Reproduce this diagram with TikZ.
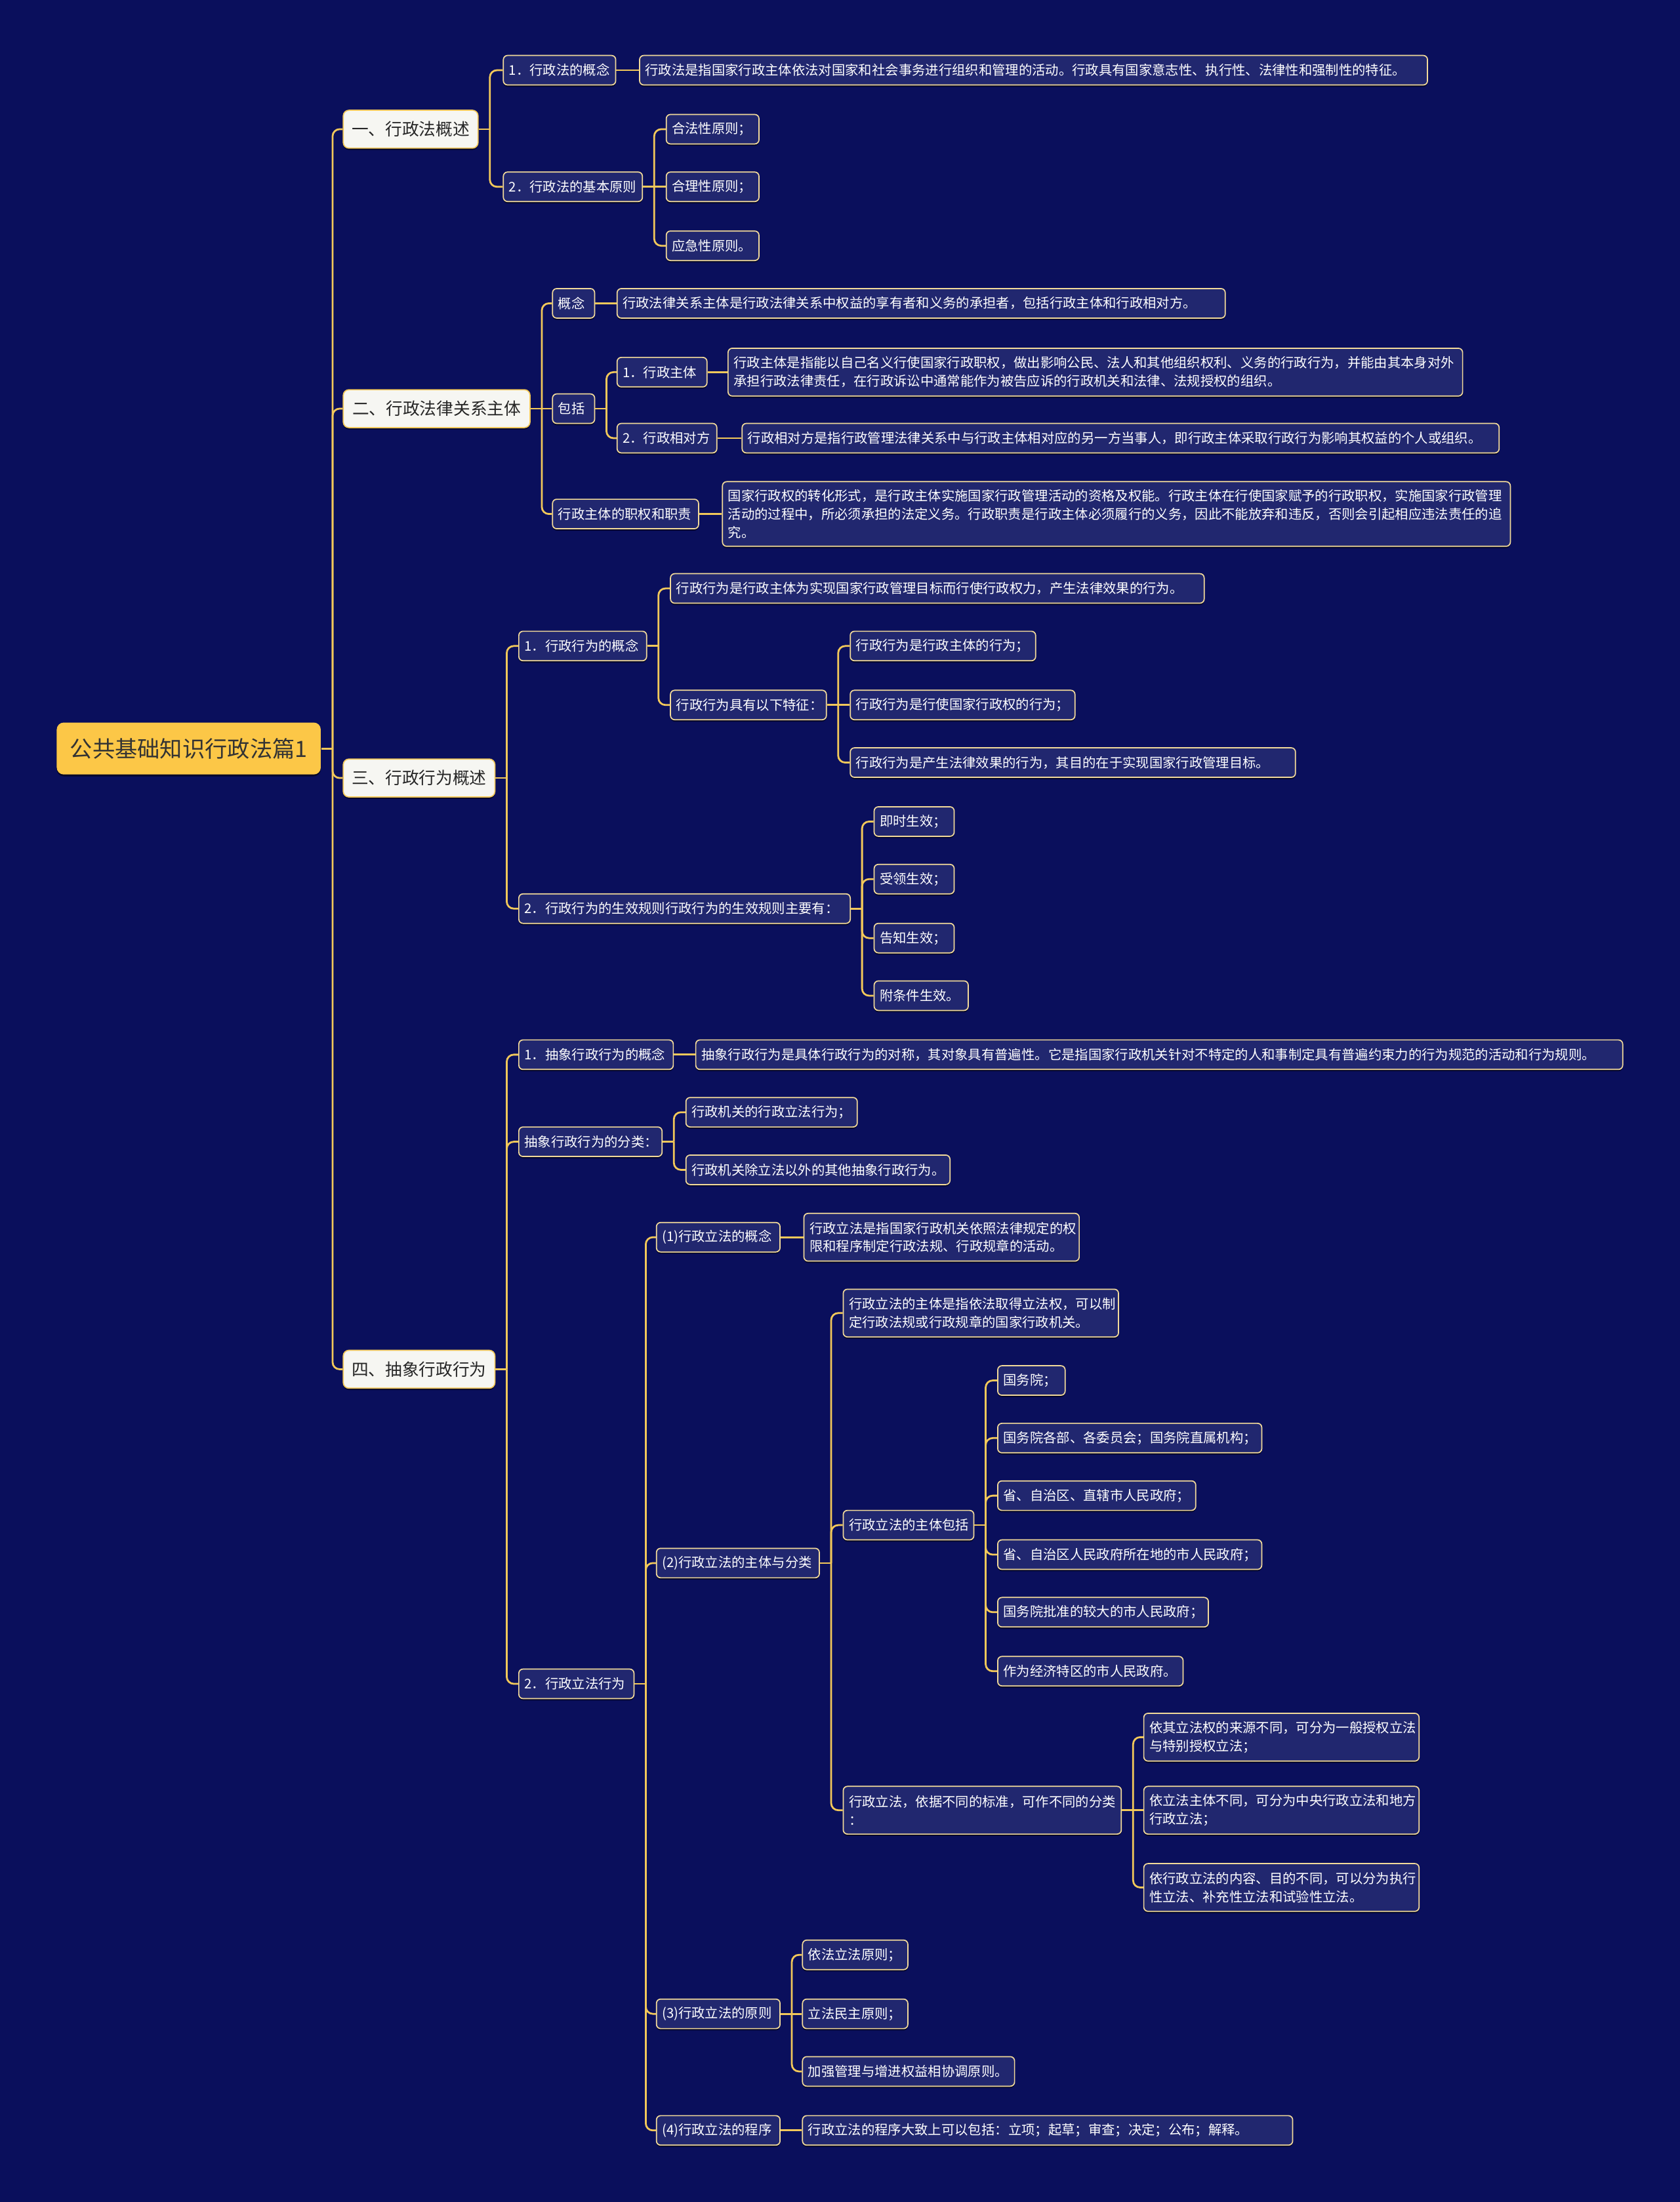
\documentclass[tikz,border=0pt]{standalone}
\usepackage{fontspec}
\setmainfont{Noto Sans CJK SC}
\usetikzlibrary{calc,shadows}
\definecolor{bg}{HTML}{0A0F5C}
\definecolor{leafbg}{HTML}{21276F}
\definecolor{leafbd}{HTML}{F2DA9A}
\definecolor{lnkc}{HTML}{F2C85A}
\definecolor{rootbg}{HTML}{FCC747}
\definecolor{lvbg}{HTML}{F6F6F2}
\tikzset{
 box/.style={rounded corners=3pt, line width=0.8pt, anchor=west, inner ysep=0pt,
   drop shadow={shadow xshift=0pt,shadow yshift=-1.3pt,fill=black,opacity=0.55}},
 leaf/.style={box, fill=leafbg, draw=leafbd, text=white, font=\fontsize{9.5}{13}\selectfont,
   inner xsep=4pt, minimum height=21pt, align=left, text width=#1},
 leaftwo/.style={leaf=#1, minimum height=34pt},
 leafthree/.style={leaf=#1, minimum height=46pt},
 lvone/.style={box, fill=lvbg, draw=lnkc, text=black!85, font=\fontsize{12}{14}\selectfont,
   inner xsep=6pt, minimum height=27pt, rounded corners=4pt},
 rootn/.style={box, fill=rootbg, draw=none, text=black!80, font=\fontsize{16}{18}\selectfont,
   inner xsep=8pt, minimum height=37pt, rounded corners=5pt},
 lk/.style={draw=lnkc, line width=1.3pt},
}
\newcommand\lnk[2]{\draw[lk] (#1.east) -- ++(8,0); \draw[lk,rounded corners=5pt] ($(#1.east)+(8,0)$) |- (#2.west);}
\newcommand\lns[2]{\draw[lk] (#1.east) -- (#2.west);}
\begin{document}
\begin{tikzpicture}[x=1pt,y=-1pt]
\fill[bg] (0,0) rectangle (1196,1568);
\useasboundingbox (0,0) rectangle (1196,1568);

% root and level 1
\node[rootn, minimum width=188] (r) at (40,533) {公共基础知识行政法篇1};
\node[lvone, minimum width=96] (a1) at (244,92) {一、行政法概述};
\node[lvone, minimum width=133] (a2) at (244,291) {二、行政法律关系主体};
\node[lvone, minimum width=108] (a3) at (244,554) {三、行政行为概述};
\node[lvone, minimum width=108] (a4) at (244,975) {四、抽象行政行为};

% branch 1
\node[leaf=72pt] (b11) at (358,50) {1．行政法的概念};
\node[leaf=553pt] (c111) at (455,50) {行政法是指国家行政主体依法对国家和社会事务进行组织和管理的活动。行政具有国家意志性、执行性、法律性和强制性的特征。};
\node[leaf=91pt] (b12) at (358,133) {2．行政法的基本原则};
\node[leaf=58pt] (c121) at (474,92) {合法性原则；};
\node[leaf=58pt] (c122) at (474,133) {合理性原则；};
\node[leaf=58pt] (c123) at (474,175) {应急性原则。};

% branch 2
\node[leaf=22pt] (b21) at (393,216) {概念};
\node[leaf=425pt] (c211) at (439,216) {行政法律关系主体是行政法律关系中权益的享有者和义务的承担者，包括行政主体和行政相对方。};
\node[leaf=22pt] (b22) at (393,291) {包括};
\node[leaf=56pt] (c221) at (439,265) {1．行政主体};
\node[leaftwo=515pt] (d2211) at (518,265) {行政主体是指能以自己名义行使国家行政职权，做出影响公民、法人和其他组织权利、义务的行政行为，并能由其本身对外\\承担行政法律责任，在行政诉讼中通常能作为被告应诉的行政机关和法律、法规授权的组织。};
\node[leaf=63pt] (c222) at (439,312) {2．行政相对方};
\node[leaf=531pt] (d2221) at (528,312) {行政相对方是指行政管理法律关系中与行政主体相对应的另一方当事人，即行政主体采取行政行为影响其权益的个人或组织。};
\node[leaf=96pt] (b23) at (393,366) {行政主体的职权和职责};
\node[leafthree=553pt] (c231) at (514,366) {国家行政权的转化形式，是行政主体实施国家行政管理活动的资格及权能。行政主体在行使国家赋予的行政职权，实施国家行政管理\\活动的过程中，所必须承担的法定义务。行政职责是行政主体必须履行的义务，因此不能放弃和违反，否则会引起相应违法责任的追\\究。};

% branch 3
\node[leaf=83pt] (b31) at (369,460) {1．行政行为的概念};
\node[leaf=372pt] (c311) at (477,419) {行政行为是行政主体为实现国家行政管理目标而行使行政权力，产生法律效果的行为。};
\node[leaf=103pt] (c312) at (477,502) {行政行为具有以下特征：};
\node[leaf=124pt] (d3121) at (605,460) {行政行为是行政主体的行为；};
\node[leaf=152pt] (d3122) at (605,502) {行政行为是行使国家行政权的行为；};
\node[leaf=309pt] (d3123) at (605,543) {行政行为是产生法律效果的行为，其目的在于实现国家行政管理目标。};
\node[leaf=228pt] (b32) at (369,647) {2．行政行为的生效规则行政行为的生效规则主要有：};
\node[leaf=49pt] (c321) at (622,585) {即时生效；};
\node[leaf=49pt] (c322) at (622,626) {受领生效；};
\node[leaf=49pt] (c323) at (622,668) {告知生效；};
\node[leaf=59pt] (c324) at (622,709) {附条件生效。};

% branch 4
\node[leaf=102pt] (b41) at (369,751) {1．抽象行政行为的概念};
\node[leaf=652pt] (c411) at (495,751) {抽象行政行为是具体行政行为的对称，其对象具有普遍性。它是指国家行政机关针对不特定的人和事制定具有普遍约束力的行为规范的活动和行为规则。};
\node[leaf=94pt] (b42) at (369,813) {抽象行政行为的分类：};
\node[leaf=114pt] (c421) at (488,792) {行政机关的行政立法行为；};
\node[leaf=180pt] (c422) at (488,833) {行政机关除立法以外的其他抽象行政行为。};
\node[leaf=74pt] (b43) at (369,1199) {2．行政立法行为};
\node[leaf=80pt] (c431) at (467,881) {(1)行政立法的概念};
\node[leaftwo=188pt] (d4311) at (572,881) {行政立法是指国家行政机关依照法律规定的权\\限和程序制定行政法规、行政规章的活动。};
\node[leaf=108pt] (c432) at (467,1113) {(2)行政立法的主体与分类};
\node[leaftwo=188pt] (d4321) at (600,935) {行政立法的主体是指依法取得立法权，可以制\\定行政法规或行政规章的国家行政机关。};
\node[leaf=85pt] (d4322) at (600,1086) {行政立法的主体包括};
\node[leaf=40pt] (e1) at (710,983) {国务院；};
\node[leaf=180pt] (e2) at (710,1024) {国务院各部、各委员会；国务院直属机构；};
\node[leaf=133pt] (e3) at (710,1065) {省、自治区、直辖市人民政府；};
\node[leaf=180pt] (e4) at (710,1107) {省、自治区人民政府所在地的市人民政府；};
\node[leaf=142pt] (e5) at (710,1148) {国务院批准的较大的市人民政府；};
\node[leaf=124pt] (e6) at (710,1190) {作为经济特区的市人民政府。};
\node[leaftwo=190pt] (d4323) at (600,1289) {行政立法，依据不同的标准，可作不同的分类\\：};
\node[leaftwo=188pt] (f1) at (814,1237) {依其立法权的来源不同，可分为一般授权立法\\与特别授权立法；};
\node[leaftwo=188pt] (f2) at (814,1289) {依立法主体不同，可分为中央行政立法和地方\\行政立法；};
\node[leaftwo=188pt] (f3) at (814,1344) {依行政立法的内容、目的不同，可以分为执行\\性立法、补充性立法和试验性立法。};
\node[leaf=80pt] (c433) at (467,1434) {(3)行政立法的原则};
\node[leaf=67pt] (g1) at (571,1392) {依法立法原则；};
\node[leaf=67pt] (g2) at (571,1434) {立法民主原则；};
\node[leaf=143pt] (g3) at (571,1475) {加强管理与增进权益相协调原则。};
\node[leaf=80pt] (c434) at (467,1517) {(4)行政立法的程序};
\node[leaf=341pt] (g4) at (571,1517) {行政立法的程序大致上可以包括：立项；起草；审查；决定；公布；解释。};

% connectors
\lnk{r}{a1}\lnk{r}{a2}\lnk{r}{a3}\lnk{r}{a4}
\lnk{a1}{b11}\lnk{a1}{b12}\lns{b11}{c111}
\lnk{b12}{c121}\lns{b12}{c122}\lnk{b12}{c123}
\lnk{a2}{b21}\lns{a2}{b22}\lnk{a2}{b23}
\lns{b21}{c211}\lnk{b22}{c221}\lnk{b22}{c222}
\lns{c221}{d2211}\lns{c222}{d2221}\lns{b23}{c231}
\lnk{a3}{b31}\lnk{a3}{b32}
\lnk{b31}{c311}\lnk{b31}{c312}
\lnk{c312}{d3121}\lns{c312}{d3122}\lnk{c312}{d3123}
\lnk{b32}{c321}\lnk{b32}{c322}\lnk{b32}{c323}\lnk{b32}{c324}
\lnk{a4}{b41}\lnk{a4}{b42}\lnk{a4}{b43}
\lns{b41}{c411}\lnk{b42}{c421}\lnk{b42}{c422}
\lnk{b43}{c431}\lnk{b43}{c432}\lnk{b43}{c433}\lnk{b43}{c434}
\lns{c431}{d4311}
\lnk{c432}{d4321}\lnk{c432}{d4322}\lnk{c432}{d4323}
\lnk{d4322}{e1}\lnk{d4322}{e2}\lnk{d4322}{e3}\lnk{d4322}{e4}\lnk{d4322}{e5}\lnk{d4322}{e6}
\lnk{d4323}{f1}\lns{d4323}{f2}\lnk{d4323}{f3}
\lnk{c433}{g1}\lns{c433}{g2}\lnk{c433}{g3}
\lns{c434}{g4}
\end{tikzpicture}
\end{document}
